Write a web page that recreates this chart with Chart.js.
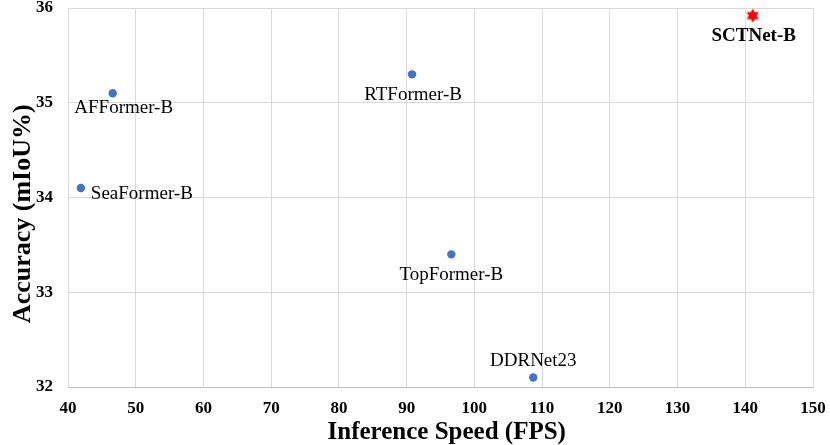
<!DOCTYPE html>
<html>
<head>
<meta charset="utf-8">
<script src="https://cdn.jsdelivr.net/npm/chart.js@4.4.1/dist/chart.umd.min.js"></script>
<style>
  html, body { margin: 0; padding: 0; background: #fff; }
  #wrap { width: 830px; height: 445px; }
</style>
</head>
<body>
<div id="wrap"><canvas id="chart"></canvas></div>
<script>
// data
const models = ['AFFormer-B', 'SeaFormer-B', 'RTFormer-B', 'TopFormer-B', 'DDRNet23'];
const fps = [46.6, 41.9, 90.8, 96.6, 108.7];
const miou = [35.1, 34.1, 35.3, 33.4, 32.1];

const oursName = 'SCTNet-B';
const oursFps = [141.1];
const oursMiou = [35.92];

const xTicks = [40, 50, 60, 70, 80, 90, 100, 110, 120, 130, 140, 150];
const yTicks = [32, 33, 34, 35, 36];

// label placement relative to each point (dx, dy, align)
const labelPos = {
  'AFFormer-B': [11, 15, 'center'],
  'SeaFormer-B': [10, 6, 'left'],
  'RTFormer-B': [1, 21, 'center'],
  'TopFormer-B': [0, 21, 'center'],
  'DDRNet23': [0, -17, 'center'],
  'SCTNet-B': [1, 21, 'center']
};

// red six pointed star marker
function makeStar(r) {
  const c = document.createElement('canvas');
  c.width = c.height = r * 2 + 2;
  const g = c.getContext('2d');
  const cx = r + 1, cy = r + 1;
  g.fillStyle = '#ff0000';
  g.beginPath();
  for (let i = 0; i < 12; i++) {
    const a = -Math.PI / 2 + i * Math.PI / 6;
    const rr = i % 2 === 0 ? r : r * 0.58;
    const px = cx + rr * Math.cos(a), py = cy + rr * Math.sin(a);
    if (i === 0) g.moveTo(px, py); else g.lineTo(px, py);
  }
  g.closePath();
  g.fill();
  return c;
}

const serif = '"Liberation Serif", "Times New Roman", serif';

const labelPlugin = {
  id: 'pointLabels',
  afterDatasetsDraw(chart) {
    const ctx = chart.ctx;
    const xs = chart.scales.x, ys = chart.scales.y;
    ctx.save();
    ctx.fillStyle = '#000';
    ctx.textBaseline = 'middle';
    const draw = (name, x, y, bold) => {
      const p = labelPos[name];
      ctx.font = (bold ? 'bold ' : '') + '19px ' + serif;
      ctx.textAlign = p[2];
      ctx.fillText(name, xs.getPixelForValue(x) + p[0], ys.getPixelForValue(y) + p[1]);
    };
    models.forEach((m, i) => draw(m, fps[i], miou[i], false));
    draw(oursName, oursFps[0], oursMiou[0], true);
    ctx.restore();
  }
};

new Chart(document.getElementById('chart'), {
  type: 'scatter',
  data: {
    datasets: [{
      label: 'Others',
      data: fps.map((v, i) => ({ x: v, y: miou[i] })),
      backgroundColor: '#4472c4',
      borderWidth: 0,
      pointRadius: 4.2,
      pointHoverRadius: 4.2
    }, {
      label: oursName,
      data: oursFps.map((v, i) => ({ x: v, y: oursMiou[i] })),
      pointStyle: makeStar(7),
      pointRadius: 7
    }]
  },
  options: {
    responsive: true,
    maintainAspectRatio: false,
    animation: false,
    layout: { padding: { left: 0, right: 17, top: 7, bottom: 0 } },
    plugins: {
      legend: { display: false },
      tooltip: { enabled: false }
    },
    scales: {
      x: {
        type: 'linear',
        min: 40,
        max: 150,
        afterBuildTicks: s => { s.ticks = xTicks.map(v => ({ value: v })); },
        afterFit: s => { s.height = 58; s.paddingLeft = 0; s.paddingRight = 0; },
        grid: { color: '#d9d9d9', drawTicks: false },
        border: { color: '#bfbfbf' },
        ticks: {
          color: '#000',
          padding: 11,
          font: { family: serif, size: 17, weight: 'bold' }
        },
        title: {
          display: true,
          text: '  Inference Speed (FPS)',
          color: '#000',
          padding: 0,
          font: { family: serif, size: 25, weight: 'bold', lineHeight: 1.0 }
        }
      },
      y: {
        type: 'linear',
        min: 32,
        max: 36,
        afterBuildTicks: s => { s.ticks = yTicks.map(v => ({ value: v })); },
        afterFit: s => { s.width = 68; s.paddingTop = 0; s.paddingBottom = 0; },
        grid: { color: '#d9d9d9', drawTicks: false },
        border: { color: '#d9d9d9' },
        ticks: {
          color: '#000',
          padding: 15,
          font: { family: serif, size: 17, weight: 'bold' }
        },
        title: {
          display: true,
          text: 'Accuracy (mIoU%)     ',
          color: '#000',
          padding: { top: 8, bottom: 0 },
          font: { family: serif, size: 26, weight: 'bold' }
        }
      }
    }
  },
  plugins: [labelPlugin]
});
</script>
</body>
</html>
